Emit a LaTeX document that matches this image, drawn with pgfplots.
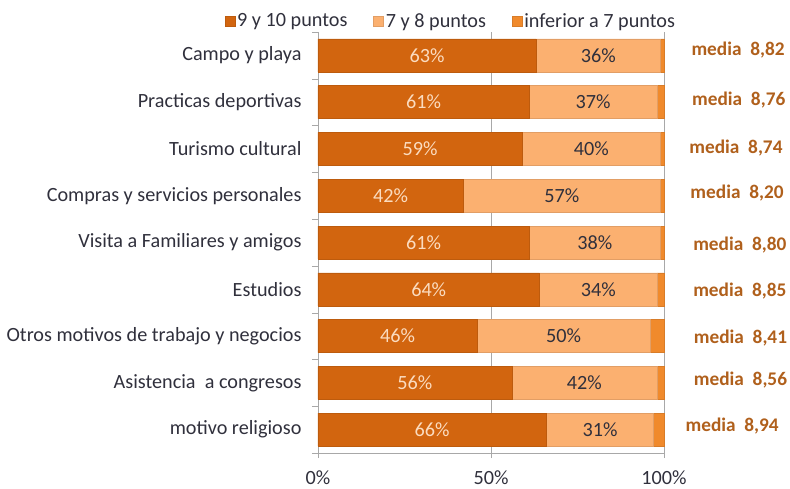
\documentclass[border=0pt]{standalone}
\usepackage{fontspec}
\setmainfont{Carlito}
\usepackage{pgfplots}
\pgfplotsset{compat=1.18}
\definecolor{dk}{HTML}{D2650F}
\definecolor{lt}{HTML}{FBB070}
\definecolor{th}{HTML}{F08A2C}
\definecolor{med}{HTML}{B0601C}
\definecolor{txt}{HTML}{30303C}
\definecolor{grd}{HTML}{A8A8A8}
\definecolor{cream}{HTML}{FBDCC0}
\newcommand{\fs}{\fontsize{20.2}{24}\selectfont}
\newcommand{\fm}{\fontsize{19.3}{23}\selectfont}

\begin{document}
\begin{tikzpicture}
\useasboundingbox (-318pt,-35pt) rectangle (472pt,453pt);
\pgfplotsset{
  base/.style={
    scale only axis, width=346pt, height=421pt,
    at={(0pt,0pt)}, anchor=south west,
    xmin=0, xmax=100, ymin=-0.5, ymax=8.5,
    clip=false,
  }
}
\begin{axis}[base,
  xbar stacked, bar width=33pt,
  axis x line*=bottom, axis y line*=left,
  axis line style={grd, -},
  tick align=outside, major tick length=5pt, minor tick length=6pt,
  xtick={0,50,100}, xticklabels={0\%,50\%,100\%},
  xticklabel style={font=\fs, text=txt, yshift=-9pt},
  xtick style={grd},
  xmajorgrids, grid style={grd, line width=0.8pt},
  ytick={0,...,8},
  yticklabels={motivo religioso, Asistencia\ \ a congresos,
    Otros motivos de trabajo y negocios, Estudios,
    Visita a Familiares y amigos, Compras y servicios personales,
    Turismo cultural, Practicas deportivas, Campo y playa},
  yticklabel style={font=\fs, text=txt, xshift=-8pt},
  every major y tick/.append style={draw=none},
  minor ytick={-0.5,0.5,...,8.5},
  every minor y tick/.append style={grd},
  legend style={at={(0.384,1)}, anchor=south, draw=none, fill=none,
    font=\fs, text=txt, legend columns=3, inner sep=1pt,
    /tikz/every even column/.append style={column sep=24pt}},
  legend image code/.code={\path[#1] (0pt,-5pt) rectangle (10pt,5pt);},
]
\addplot[fill=dk, draw=dk!90!black]
  coordinates {(66,0)(56,1)(46,2)(64,3)(61,4)(42,5)(59,6)(61,7)(63,8)};
\addlegendentry{9 y 10 puntos}
\addplot[fill=lt, draw=lt!90!black]
  coordinates {(31,0)(42,1)(50,2)(34,3)(38,4)(57,5)(40,6)(37,7)(36,8)};
\addlegendentry{7 y 8 puntos}
\addplot[fill=th, draw=th!90!black]
  coordinates {(3,0)(2,1)(4,2)(2,3)(1,4)(1,5)(1,6)(2,7)(1,8)};
\addlegendentry{inferior a 7 puntos}
\end{axis}
\begin{axis}[base, hide axis]
% labels inside the dark segments
\addplot[draw=none, nodes near coords, point meta=explicit symbolic,
  nodes near coords style={anchor=center, text=cream, font=\fs}]
  coordinates {(33,0)[66\%] (28,1)[56\%] (23,2)[46\%] (32,3)[64\%]
    (30.5,4)[61\%] (21,5)[42\%] (29.5,6)[59\%] (30.5,7)[61\%] (31.5,8)[63\%]};
% labels inside the light segments
\addplot[draw=none, nodes near coords, point meta=explicit symbolic,
  nodes near coords style={anchor=center, text=txt, font=\fs}]
  coordinates {(81.5,0)[31\%] (77,1)[42\%] (71,2)[50\%] (81,3)[34\%]
    (80,4)[38\%] (70.5,5)[57\%] (79,6)[40\%] (79.5,7)[37\%] (81,8)[36\%]};
% means on the right
\addplot[draw=none, nodes near coords, point meta=explicit symbolic,
  nodes near coords style={anchor=west, inner sep=0pt, text=med, font=\bfseries\fm}]
  coordinates {(106.2,0.08)[{media\ \ 8,94}] (108.6,1.06)[{media\ \ 8,56}]
    (108.6,1.96)[{media\ \ 8,41}] (108.4,2.97)[{media\ \ 8,85}]
    (108.4,3.95)[{media\ \ 8,80}] (107.6,5.06)[{media\ \ 8,20}]
    (107.3,6.02)[{media\ \ 8,74}] (108.1,7.05)[{media\ \ 8,76}]
    (107.9,8.12)[{media\ \ 8,82}]};
\end{axis}
\end{tikzpicture}
\end{document}
